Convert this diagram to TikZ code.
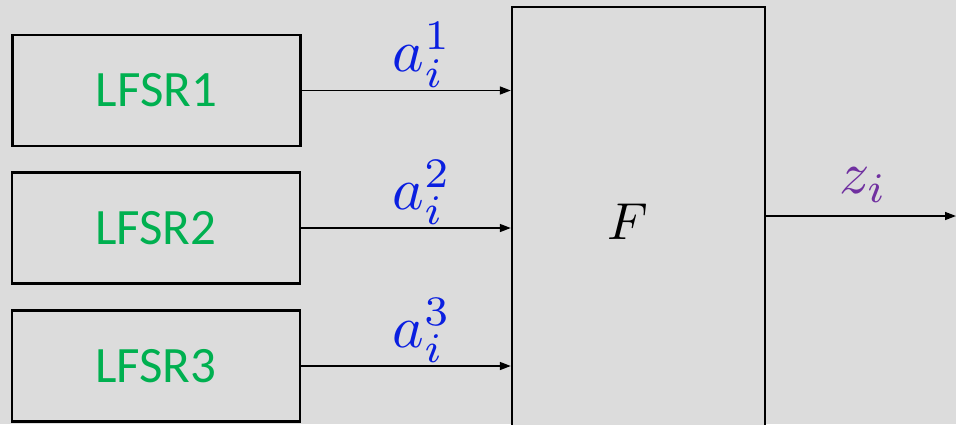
\documentclass[tikz,border=0pt]{standalone}
\usepackage{fontspec}
\usepackage{amsmath}
\newfontfamily\calibri{Carlito}
\usetikzlibrary{positioning,arrows.meta,calc}
\definecolor{bggray}{HTML}{DCDCDC}
\definecolor{lfsrgreen}{HTML}{00B050}
\definecolor{seqblue}{HTML}{0A1FE0}
\definecolor{outpurple}{HTML}{7030A0}

\begin{document}
\begin{tikzpicture}[
    x=1pt, y=-1pt,
    box/.style={draw, line width=2.4pt, fill=bggray, inner sep=0pt},
    lfsr/.style={box, minimum width=288pt, minimum height=111pt, font=\calibri\fontsize{51}{56}\selectfont, text=lfsrgreen},
    arr/.style={-{Triangle[length=11pt,width=8pt]}, line width=1.5pt},
    lbl/.style={text=seqblue, anchor=base, inner sep=0pt, scale=6}
]
\useasboundingbox[fill=bggray] (0,0) rectangle (956,424);

\node[lfsr] (l1) at (156.5,90.5) {LFSR1};
\node[lfsr] (l2) at (156,228) {LFSR2};
\node[lfsr] (l3) at (156,366) {LFSR3};
% F box runs past the lower edge
\begin{scope}
\clip (0,0) rectangle (956,424);
\node[box, minimum width=253pt, minimum height=440pt] (f) at (638.5,227) {};
\end{scope}
\node[scale=5.2] (fl) at (628,222) {$F$};
\coordinate (out) at (956,216);

\draw[arr] (l1.east) -- (l1.east -| f.west) node[midway, xshift=16pt, yshift=19pt, lbl] {$a_i^1$};
\draw[arr] (l2.east) -- (l2.east -| f.west) node[midway, xshift=16pt, yshift=19pt, lbl] {$a_i^2$};
\draw[arr] (l3.east) -- (l3.east -| f.west) node[midway, xshift=16pt, yshift=19pt, lbl] {$a_i^3$};
\draw[arr] (out -| f.east) -- (out) node[midway, xshift=2pt, yshift=23pt, lbl, text=outpurple] {$z_i$};
\end{tikzpicture}
\end{document}
